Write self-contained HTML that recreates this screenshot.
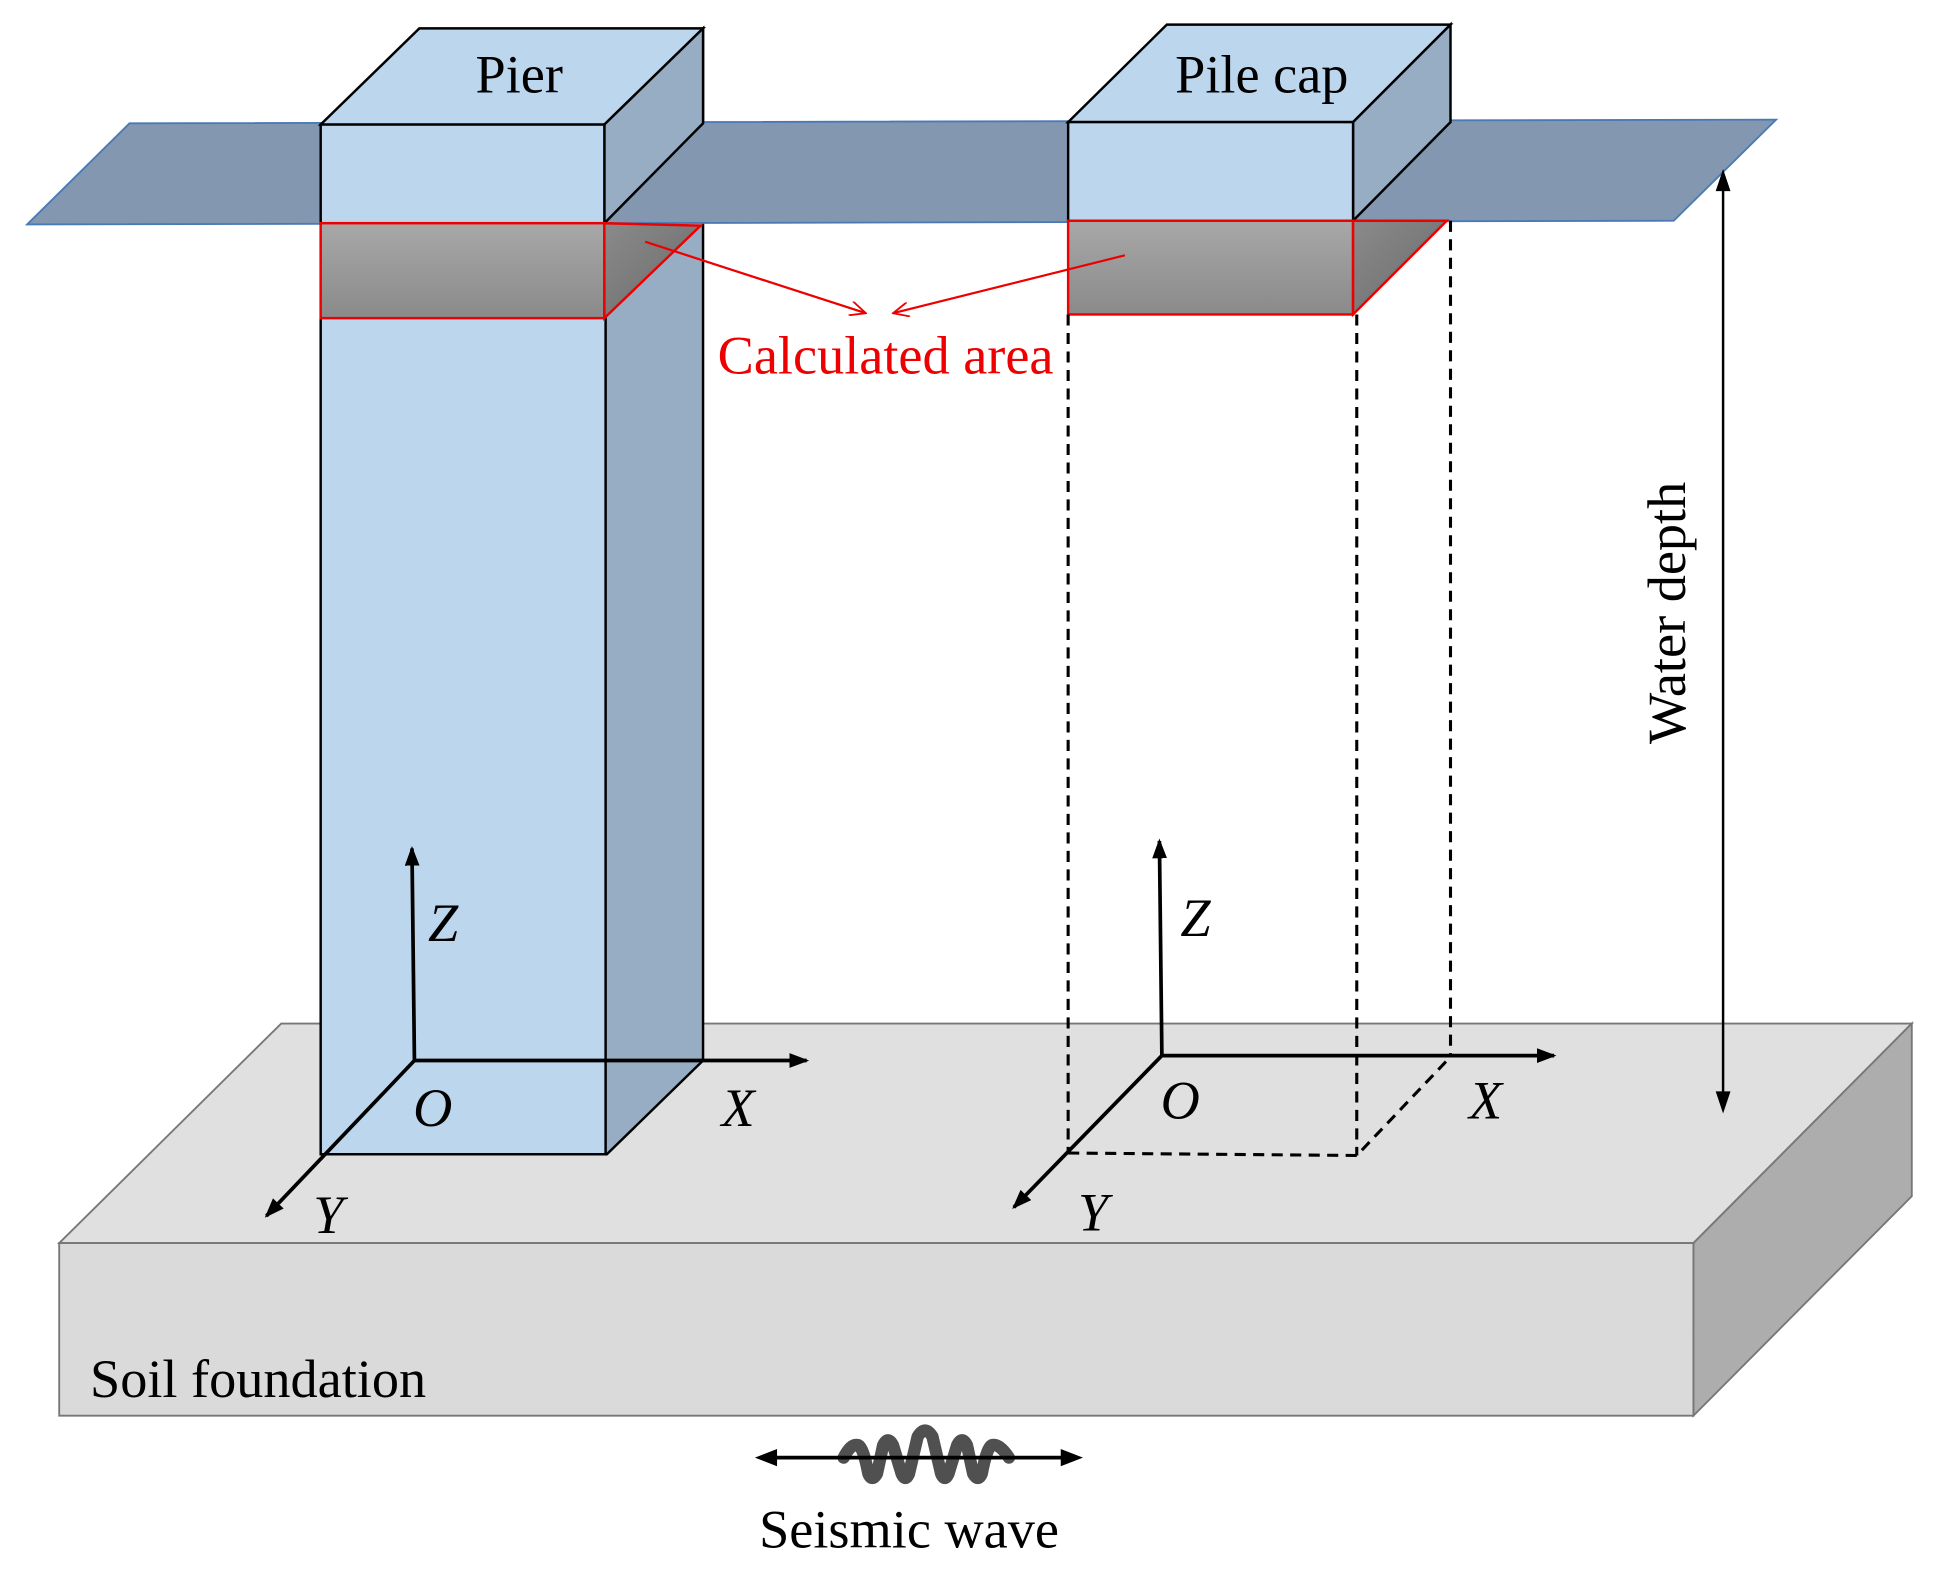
<!DOCTYPE html>
<html><head><meta charset="utf-8"><style>html,body{margin:0;padding:0;background:#fff}svg{display:block}</style></head><body>
<svg width="1934" height="1576" viewBox="0 0 1568 1278" preserveAspectRatio="none" xmlns="http://www.w3.org/2000/svg" font-family="Liberation Serif, serif">
<defs>
<linearGradient id="g" x1="0" y1="0" x2="0" y2="1"><stop offset="0" stop-color="#a8a8a8"/><stop offset="1" stop-color="#8a8a8a"/></linearGradient>
<linearGradient id="g2" x1="0" y1="0" x2="1" y2="1"><stop offset="0" stop-color="#8a8a8a"/><stop offset="1" stop-color="#6a6a6a"/></linearGradient>
<marker id="a" markerWidth="16" markerHeight="12" refX="14" refY="6" orient="auto" markerUnits="userSpaceOnUse"><path d="M0,0 L16,6 L0,12 Z" fill="#000"/></marker>
<marker id="r" markerWidth="14" markerHeight="12" refX="13" refY="6" orient="auto" markerUnits="userSpaceOnUse"><path d="M0,0 L13,6 L0,12" fill="none" stroke="#e00" stroke-width="1.5"/></marker>
</defs>
<polygon points="48,1008 228,830 1550,830 1373,1008" fill="#e0e0e0" stroke="#777" stroke-width="1.5"/>
<polygon points="48,1008 1373,1008 1373,1148 48,1148" fill="#dadada" stroke="#777" stroke-width="1.5"/>
<polygon points="1373,1008 1550,830 1550,970 1373,1148" fill="#adadad" stroke="#777" stroke-width="1.5"/>
<polygon points="490,101 570,23 570,860 492,936 490,936" fill="#97adc3" stroke="#000" stroke-width="2"/>
<rect x="260" y="181" width="231" height="755" fill="#bcd6ed" stroke="#000" stroke-width="2"/>
<polygon points="22,182 105,100 1440,97 1357,179" fill="#8398b0" stroke="#4a7ab5" stroke-width="1.5"/>
<polygon points="260,101 340,23 570,23 490,101" fill="#bcd6ed" stroke="#000" stroke-width="2"/>
<polygon points="490,101 570,23 570,100 490,181" fill="#97adc3" stroke="#000" stroke-width="2"/>
<rect x="260" y="101" width="230" height="80" fill="#bcd6ed" stroke="#000" stroke-width="2"/>
<rect x="260" y="181" width="230" height="77" fill="url(#g)" stroke="#e00" stroke-width="2"/>
<polygon points="490,181 568,183 490,258" fill="url(#g2)" stroke="#e00" stroke-width="2"/>
<polygon points="866,99 946,20 1176,20 1097,99" fill="#bcd6ed" stroke="#000" stroke-width="2"/>
<polygon points="1097,99 1176,20 1176,99 1097,179" fill="#97adc3" stroke="#000" stroke-width="2"/>
<rect x="866" y="99" width="231" height="80" fill="#bcd6ed" stroke="#000" stroke-width="2"/>
<rect x="866" y="179" width="231" height="76" fill="url(#g)" stroke="#e00" stroke-width="2"/>
<polygon points="1097,179 1173,179 1097,255" fill="url(#g2)" stroke="#e00" stroke-width="2"/>
<g stroke="#000" stroke-width="2.5" stroke-dasharray="9,6" fill="none">
<line x1="866" y1="255" x2="866" y2="935"/>
<line x1="1100" y1="255" x2="1100" y2="937"/>
<line x1="1176" y1="179" x2="1176" y2="857"/>
<polyline points="866,935 1100,937 1176,857"/>
</g>
<g stroke="#000" stroke-width="3" fill="none">
<line x1="336" y1="860" x2="334" y2="688" marker-end="url(#a)"/>
<line x1="336" y1="860" x2="654" y2="860" marker-end="url(#a)"/>
<line x1="336" y1="860" x2="216" y2="986" marker-end="url(#a)"/>
<line x1="942" y1="856" x2="940" y2="682" marker-end="url(#a)"/>
<line x1="942" y1="856" x2="1260" y2="856" marker-end="url(#a)"/>
<line x1="942" y1="856" x2="822" y2="979" marker-end="url(#a)"/>
</g>
<g font-size="44" font-style="italic">
<text x="347" y="763">Z</text><text x="335" y="913">O</text><text x="585" y="913">X</text><text x="254" y="1000">Y</text>
<text x="957" y="759">Z</text><text x="941" y="907">O</text><text x="1191" y="907">X</text><text x="874" y="998">Y</text>
</g>
<line x1="523" y1="196" x2="702" y2="254" stroke="#e00" stroke-width="1.8" marker-end="url(#r)"/>
<line x1="912" y1="207" x2="724" y2="254" stroke="#e00" stroke-width="1.8" marker-end="url(#r)"/>
<text x="718" y="303" font-size="44" fill="#e00" text-anchor="middle">Calculated area</text>
<line x1="1397" y1="150" x2="1397" y2="890" stroke="#000" stroke-width="2"/>
<path d="M1397,137 L1391,155 L1403,155 Z M1397,903 L1391,885 L1403,885 Z"/>
<text transform="translate(1366,497) rotate(-90)" font-size="44" text-anchor="middle">Water depth</text>
<text x="421" y="75" font-size="44" text-anchor="middle">Pier</text>
<text x="1023" y="75" font-size="44" text-anchor="middle">Pile cap</text>
<text x="73" y="1133" font-size="44">Soil foundation</text>
<path d="M684,1182 Q690,1170 696,1172 Q700,1174 704,1195 Q707,1202 711,1195 L716,1172 Q720,1164 724,1172 L731,1195 Q734,1202 737,1195 L744,1165 Q750,1155 756,1165 L763,1195 Q766,1202 769,1195 L776,1172 Q780,1164 784,1172 L789,1195 Q793,1202 796,1195 Q800,1174 804,1172 Q810,1170 818,1182" fill="none" stroke="#505050" stroke-width="10" stroke-linejoin="round" stroke-linecap="round"/>
<line x1="625" y1="1182" x2="865" y2="1182" stroke="#000" stroke-width="3"/>
<path d="M612,1182 L630,1175 L630,1189 Z M878,1182 L860,1175 L860,1189 Z"/>
<text x="737" y="1255" font-size="44" text-anchor="middle">Seismic wave</text>
</svg>
</body></html>
